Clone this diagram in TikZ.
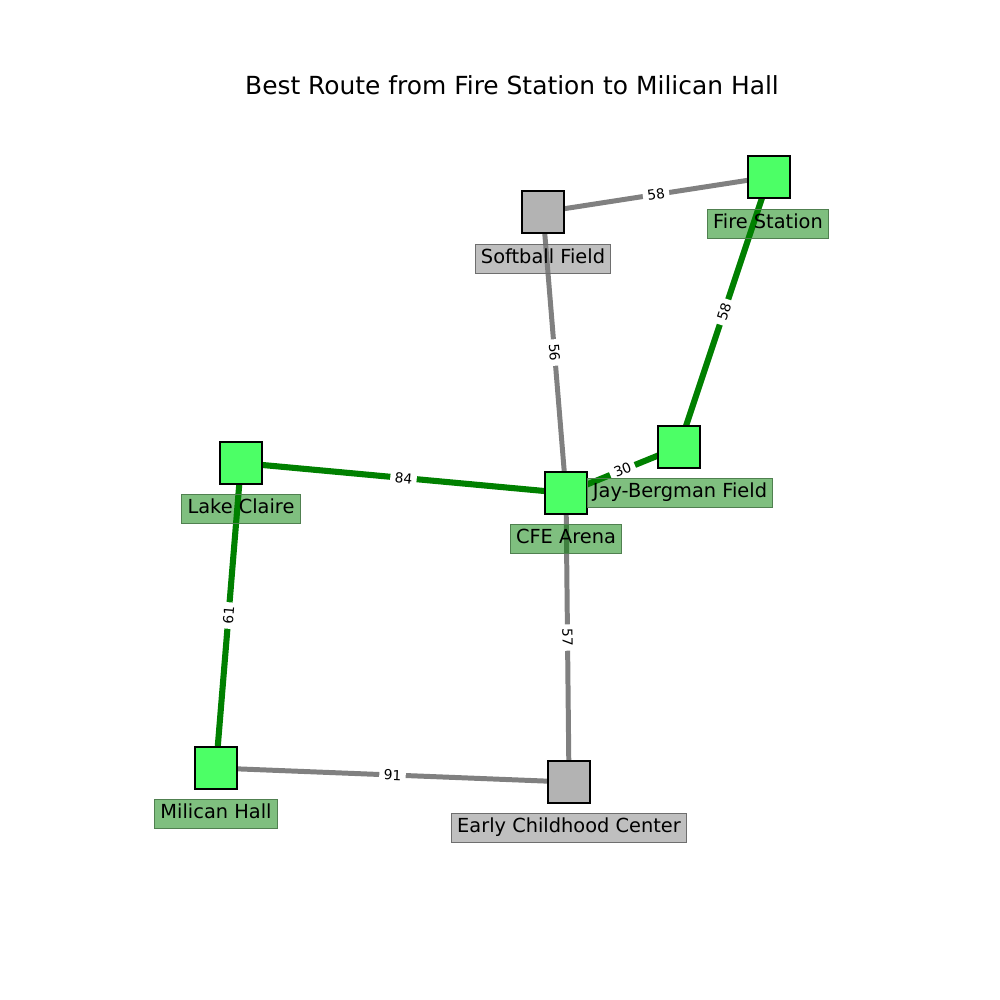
\documentclass[tikz,border=0pt]{standalone}
\usepackage{fontspec}
\setmainfont{DejaVu Sans}
\pgfdeclarelayer{background}
\pgfsetlayers{background,main}
\definecolor{nodegreen}{RGB}{76,255,102}
\definecolor{nodegray}{RGB}{179,179,179}
\definecolor{edgegreen}{RGB}{0,128,0}
\definecolor{edgegray}{RGB}{128,128,128}
\definecolor{gborder}{RGB}{80,128,80}
\definecolor{gyborder}{RGB}{110,110,110}
\begin{document}
\begin{tikzpicture}[x=0.7227pt,y=-0.7227pt,
  sq/.style={draw=black,line width=1.4pt,minimum size=30pt,inner sep=0pt},
  onroute/.style={sq,fill=nodegreen},
  offroute/.style={sq,fill=nodegray},
  lbl/.style={font=\fontsize{14}{16}\selectfont,text height=10.6pt,text depth=3.4pt,
    inner xsep=4.3pt,inner ysep=3.8pt,fill opacity=0.5,text opacity=1,line width=0.7pt},
  glbl/.style={lbl,fill=edgegreen,draw=gborder},
  gylbl/.style={lbl,fill=edgegray,draw=gyborder},
  routeedge/.style={draw=edgegreen,line width=4.4pt},
  otheredge/.style={draw=edgegray,line width=3.6pt},
  elbl/.style={font=\fontsize{10}{12}\selectfont,fill=white,inner xsep=3.2pt,inner ysep=1pt,sloped,pos=0.5}]
\useasboundingbox (0,0) rectangle (1000,1000);
\node[font=\fontsize{18}{22}\selectfont] (title) at (512,85) {Best Route from Fire Station to Milican Hall};
% squares
\node[onroute] (fire) at (769,177) {};
\node[offroute] (soft) at (543,212) {};
\node[onroute] (jay) at (679,447) {};
\node[onroute] (cfe) at (566,493) {};
\node[onroute] (lake) at (241,463) {};
\node[onroute] (mil) at (216,768) {};
\node[offroute] (ecc) at (569,782) {};
% edges
\begin{pgfonlayer}{background}
\draw[otheredge] (soft.center) -- node[elbl] (e1) {58} (fire.center);
\draw[otheredge] (soft.center) -- node[elbl] (e2) {56} (cfe.center);
\draw[otheredge] (cfe.center) -- node[elbl] (e3) {57} (ecc.center);
\draw[otheredge] (mil.center) -- node[elbl] (e4) {91} (ecc.center);
\draw[routeedge] (fire.center) -- node[elbl] (e5) {58} (jay.center);
\draw[routeedge] (cfe.center) -- node[elbl] (e6) {30} (jay.center);
\draw[routeedge] (lake.center) -- node[elbl] (e7) {84} (cfe.center);
\draw[routeedge] (lake.center) -- node[elbl] (e8) {61} (mil.center);
\end{pgfonlayer}
% labels
\node[glbl] (lfire) at (768,224) {Fire Station};
\node[gylbl] (lsoft) at (543,259) {Softball Field};
\node[glbl] (ljay) at (680,493) {Jay-Bergman Field};
\node[glbl] (lcfe) at (566,539) {CFE Arena};
\node[glbl] (llake) at (241,509) {Lake Claire};
\node[glbl] (lmil) at (216,814) {Milican Hall};
\node[gylbl] (lecc) at (569,828) {Early Childhood Center};
\end{tikzpicture}
\end{document}
